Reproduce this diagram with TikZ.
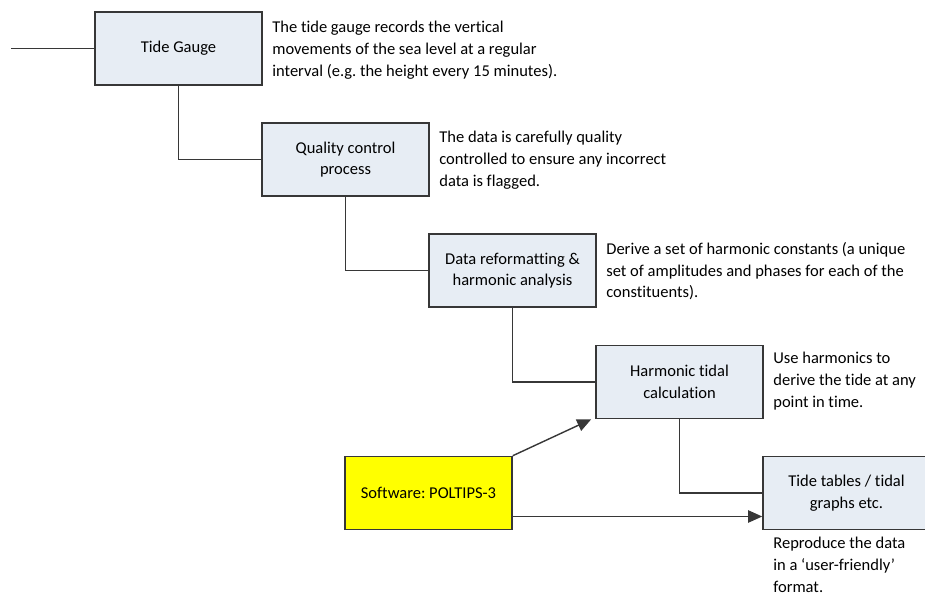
\documentclass[tikz,border=0pt]{standalone}
\usepackage{fontspec}
\setmainfont{Carlito}[Ligatures=NoCommon]
\frenchspacing
\usetikzlibrary{arrows.meta}
\definecolor{boxfill}{RGB}{231,237,244}
\definecolor{linegrey}{RGB}{55,55,55}
\definecolor{swyellow}{RGB}{255,255,0}
\tikzset{
  stage/.style={draw=linegrey, line width=0.9pt, fill=boxfill, minimum width=3.34cm,
    minimum height=1.46cm, inner sep=0pt, align=center, font=\fontsize{9.4}{12.3}\selectfont},
  note/.style={anchor=north west, align=left, inner sep=0pt, font=\fontsize{9.4}{12.3}\selectfont},
  link/.style={draw=linegrey, line width=0.8pt},
  feed/.style={link, -{Triangle[length=8pt,width=7pt]}}
}
\begin{document}
\begin{tikzpicture}[x=0.02cm,y=-0.02cm]
  \clip (0,0) rectangle (925,594);
  % stages
  \node[stage] (tg) at (178.5,48.5) {Tide Gauge};
  \node[stage] (qc) at (345.5,159.5) {Quality control\\process};
  \node[stage] (dr) at (512.5,270.5) {Data reformatting \&\\harmonic analysis};
  \node[stage] (ht) at (679.5,382) {Harmonic tidal\\calculation};
  \node[stage] (tt) at (846.5,493) {Tide tables / tidal\\graphs etc.};
  \node[stage, fill=swyellow] (sw) at (428.5,493) {Software: POLTIPS-3};
  % notes
  \node[note] (tgn) at (272,21) {The tide gauge records the vertical\\movements of the sea level at a regular\\interval (e.g. the height every 15 minutes).};
  \node[note] (qcn) at (439,131) {The data is carefully quality\\controlled to ensure any incorrect\\data is flagged.};
  \node[note] (drn) at (606,242) {Derive a set of harmonic constants (a unique\\set of amplitudes and phases for each of the\\constituents).};
  \node[note] (htn) at (773,352) {Use harmonics to\\derive the tide at any\\point in time.};
  \node[note] (ttn) at (773,537) {Reproduce the data\\in a `user-friendly'\\format.};
  % connectors
  \coordinate (in) at (11,48.5);
  \draw[link] (in) -- (tg.west);
  \draw[link] (tg.south) |- (qc.west);
  \draw[link] (qc.south) |- (dr.west);
  \draw[link] (dr.south) |- (ht.west);
  \draw[link] (ht.south) |- (tt.west);
  \draw[feed] (sw.north east) -- ([xshift=-0.08cm]ht.south west);
  \draw[feed] ([yshift=-0.47cm]sw.east) -- ([yshift=-0.47cm]tt.west);
\end{tikzpicture}
\end{document}
